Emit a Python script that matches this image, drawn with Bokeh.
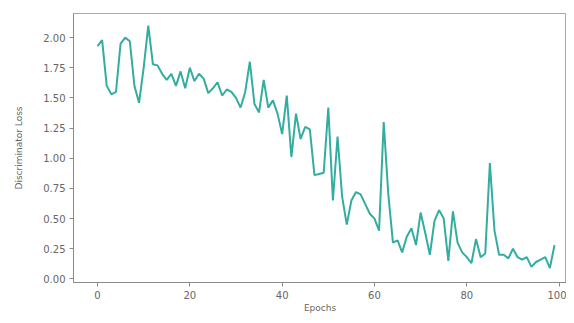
from bokeh.plotting import figure
from bokeh.models import FixedTicker, PrintfTickFormatter, Range1d
from bokeh.embed import file_html
from bokeh.resources import INLINE

epochs = list(range(100))
loss = [
    1.93, 1.98, 1.60, 1.53, 1.55, 1.95, 2.00, 1.97, 1.60, 1.46,
    1.75, 2.10, 1.78, 1.77, 1.70, 1.65, 1.70, 1.60, 1.72, 1.58,
    1.75, 1.64, 1.70, 1.66, 1.54, 1.58, 1.63, 1.52, 1.57, 1.55,
    1.50, 1.42, 1.55, 1.80, 1.45, 1.38, 1.65, 1.42, 1.48, 1.37,
    1.20, 1.52, 1.01, 1.37, 1.16, 1.26, 1.24, 0.86, 0.87, 0.88,
    1.42, 0.65, 1.18, 0.68, 0.45, 0.65, 0.72, 0.70, 0.62, 0.54,
    0.50, 0.40, 1.30, 0.70, 0.30, 0.32, 0.22, 0.35, 0.42, 0.28,
    0.55, 0.38, 0.20, 0.48, 0.57, 0.50, 0.15, 0.56, 0.30, 0.22,
    0.18, 0.13, 0.33, 0.18, 0.21, 0.96, 0.40, 0.20, 0.20, 0.17,
    0.25, 0.18, 0.16, 0.18, 0.10, 0.14, 0.16, 0.18, 0.09, 0.28,
]
x_ticks = [0, 20, 40, 60, 80, 100]
y_ticks = [0.0, 0.25, 0.5, 0.75, 1.0, 1.25, 1.5, 1.75, 2.0]

p = figure(width=566, height=315, output_backend="svg", toolbar_location=None,
           x_range=Range1d(-5.2, 101.6), y_range=Range1d(-0.03, 2.2),
           min_border_left=73, min_border_right=0, min_border_top=13, min_border_bottom=29)
p.line(epochs, loss, line_color="#33ad9f", line_width=2)

p.grid.visible = False
p.outline_line_color = "#a8a8a8"
p.background_fill_color = "white"

p.xaxis.ticker = FixedTicker(ticks=x_ticks)
p.yaxis.ticker = FixedTicker(ticks=y_ticks)
p.yaxis.formatter = PrintfTickFormatter(format="%.2f")
p.xaxis.axis_label = "Epochs"
p.yaxis.axis_label = "Discriminator Loss"

for ax in (p.xaxis[0], p.yaxis[0]):
    ax.axis_line_color = "#8a8a8a"
    ax.major_tick_line_color = "#8a8a8a"
    ax.minor_tick_line_color = None
    ax.major_tick_out = 4
    ax.major_tick_in = 0
    ax.major_label_text_font = "DejaVu Sans"
    ax.major_label_text_font_size = "10px"
    ax.major_label_text_color = "#666666"
    ax.axis_label_text_font = "DejaVu Sans"
    ax.axis_label_text_font_size = "9px"
    ax.axis_label_text_font_style = "normal"
    ax.axis_label_text_color = "#666666"
    ax.major_label_standoff = 4

p.xaxis.axis_label_standoff = 1
p.yaxis.axis_label_standoff = 16

open("out.html", "w").write(file_html(p, INLINE))
